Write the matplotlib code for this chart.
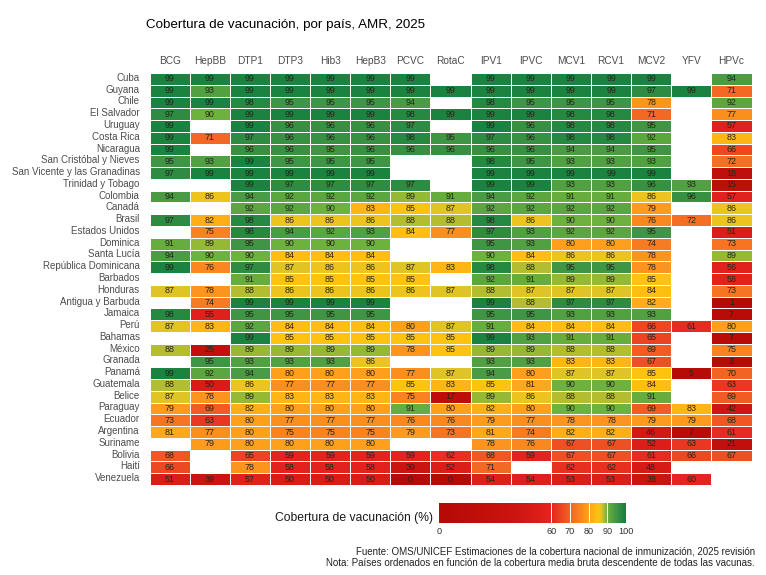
import numpy as np
import matplotlib
matplotlib.use('Agg')
import matplotlib.pyplot as plt
from matplotlib.colors import LinearSegmentedColormap

plt.rcParams['font.family'] = ['Liberation Sans', 'DejaVu Sans']

N = np.nan

vaccines = ['BCG', 'HepBB', 'DTP1', 'DTP3', 'Hib3', 'HepB3', 'PCVC', 'RotaC', 'IPV1',
            'IPVC', 'MCV1', 'RCV1', 'MCV2', 'YFV', 'HPVc']

countries = ['Cuba', 'Guyana', 'Chile', 'El Salvador', 'Uruguay', 'Costa Rica', 'Nicaragua',
             'San Cristóbal y Nieves', 'San Vicente y las Granadinas', 'Trinidad y Tobago',
             'Colombia', 'Canadá', 'Brasil', 'Estados Unidos', 'Dominica', 'Santa Lucía',
             'República Dominicana', 'Barbados', 'Honduras', 'Antigua y Barbuda', 'Jamaica',
             'Perú', 'Bahamas', 'México', 'Granada', 'Panamá', 'Guatemala', 'Belice',
             'Paraguay', 'Ecuador', 'Argentina', 'Suriname', 'Bolivia', 'Haití', 'Venezuela']

coverage = np.array([
    [99, 99, 99, 99, 99, 99, 99, N, 99, 99, 99, 99, 99, N, 94],
    [99, 93, 99, 99, 99, 99, 99, 99, 99, 99, 99, 99, 97, 99, 71],
    [99, 99, 98, 95, 95, 95, 94, N, 98, 95, 95, 95, 78, N, 92],
    [97, 90, 99, 99, 99, 99, 98, 99, 99, 99, 98, 98, 71, N, 77],
    [99, N, 99, 96, 96, 96, 97, N, 99, 96, 98, 98, 95, N, 57],
    [99, 71, 97, 96, 96, 96, 98, 95, 97, 96, 98, 98, 92, N, 83],
    [99, N, 96, 96, 95, 96, 96, 96, 96, 96, 94, 94, 95, N, 66],
    [95, 93, 99, 95, 95, 95, N, N, 98, 95, 93, 93, 93, N, 72],
    [97, 99, 99, 99, 99, 99, N, N, 99, 99, 99, 99, 99, N, 18],
    [N, N, 99, 97, 97, 97, 97, N, 99, 99, 93, 93, 96, 93, 15],
    [94, 86, 94, 92, 92, 92, 89, 91, 94, 92, 91, 91, 86, 96, 57],
    [N, N, 92, 92, 90, 83, 85, 87, 92, 92, 92, 92, 79, N, 86],
    [97, 82, 98, 86, 86, 86, 88, 88, 98, 86, 90, 90, 76, 72, 86],
    [N, 75, 98, 94, 92, 93, 84, 77, 97, 93, 92, 92, 95, N, 51],
    [91, 89, 95, 90, 90, 90, N, N, 95, 93, 80, 80, 74, N, 73],
    [94, 90, 90, 84, 84, 84, N, N, 90, 84, 86, 86, 78, N, 89],
    [99, 76, 97, 87, 86, 86, 87, 83, 98, 88, 95, 95, 78, N, 56],
    [N, N, 91, 85, 85, 85, 85, N, 92, 91, 89, 89, 85, N, 58],
    [87, 78, 88, 86, 86, 86, 86, 87, 88, 87, 87, 87, 84, N, 73],
    [N, 74, 99, 99, 99, 99, N, N, 99, 88, 97, 97, 82, N, 1],
    [98, 55, 95, 95, 95, 95, N, N, 95, 95, 93, 93, 93, N, 7],
    [87, 83, 92, 84, 84, 84, 80, 87, 91, 84, 84, 84, 66, 61, 80],
    [N, N, 99, 85, 85, 85, 85, 85, 99, 93, 91, 91, 65, N, 7],
    [88, 25, 89, 89, 89, 89, 78, 85, 89, 89, 88, 88, 69, N, 75],
    [N, 95, 93, 93, 93, 86, N, N, 93, 93, 83, 83, 67, N, 3],
    [99, 92, 94, 80, 80, 80, 77, 87, 94, 80, 87, 87, 85, 5, 70],
    [88, 50, 86, 77, 77, 77, 85, 83, 85, 81, 90, 90, 84, N, 63],
    [87, 78, 89, 83, 83, 83, 75, 17, 89, 86, 88, 88, 91, N, 69],
    [79, 69, 82, 80, 80, 80, 91, 80, 82, 80, 90, 90, 69, 83, 42],
    [73, 63, 80, 77, 77, 77, 76, 76, 79, 77, 78, 78, 79, 79, 68],
    [81, 77, 80, 75, 75, 75, 79, 73, 81, 74, 82, 82, 46, 7, 61],
    [N, 79, 80, 80, 80, 80, N, N, 78, 76, 67, 67, 52, 63, 21],
    [68, N, 65, 59, 59, 59, 59, 62, 68, 59, 67, 67, 61, 66, 67],
    [66, N, 78, 58, 58, 58, 39, 52, 71, N, 62, 62, 48, N, N],
    [51, 39, 57, 50, 50, 50, 0, 0, 54, 54, 53, 53, 38, 60, N],
])

legend_ticks = [0, 60, 70, 80, 90, 100]

# colour scale, stops
stops = [(0, '#b50a05'), (40, '#cc1410'), (60, '#e5241f'), (70, '#f26224'), (80, '#ffa01c'),
         (85, '#ffc30f'), (87, '#e2c426'), (90, '#6fb33c'), (95, '#429644'), (100, '#13803f')]
cmap = LinearSegmentedColormap.from_list('cobertura', [(v / 100, c) for v, c in stops])

W, H = 766, 575
fig = plt.figure(figsize=(W / 100, H / 100), dpi=100)


def px_axes(x0, y0, x1, y1):
    # axes from pixel corners, y measured from the top of the image
    return fig.add_axes([x0 / W, 1 - y1 / H, (x1 - x0) / W, (y1 - y0) / H])


ax = px_axes(149.5, 73, 751.5, 485)
masked = np.ma.masked_invalid(coverage)
ax.pcolormesh(masked, cmap=cmap, vmin=0, vmax=100, edgecolors='white', linewidth=0.7)
ax.set_xlim(0, len(vaccines))
ax.set_ylim(len(countries), 0)

for i in range(coverage.shape[0]):
    for j in range(coverage.shape[1]):
        if not np.isnan(coverage[i, j]):
            ax.text(j + 0.5, i + 0.5, '%d' % coverage[i, j], ha='center', va='center',
                    fontsize=6.4, color='#26261c')

ax.xaxis.tick_top()
ax.set_xticks(np.arange(len(vaccines)) + 0.5, vaccines, fontsize=7.3, color='#4d4d4d')
# country names sit slightly above the middle of their row in the reference
ax.set_yticks(np.arange(len(countries)) + 0.33, countries, fontsize=7.0, color='#4d4d4d')
ax.tick_params(length=0)
ax.tick_params(axis='x', pad=5)
ax.tick_params(axis='y', pad=7)
for s in ax.spines.values():
    s.set_visible(False)

fig.text(146 / W, 1 - 25 / H, 'Cobertura de vacunación, por país, AMR, 2025',
         fontsize=9.6, color='black', ha='left', va='center')

# legend bar
cax = px_axes(439, 503, 626, 523)
grad = np.linspace(0, 100, 500).reshape(1, -1)
cax.imshow(grad, aspect='auto', cmap=cmap, vmin=0, vmax=100, extent=[0, 100, 0, 1])
for t in legend_ticks[1:-1]:
    cax.axvline(t, color='white', linewidth=0.7)
cax.set_yticks([])
cax.set_xticks(legend_ticks, [str(t) for t in legend_ticks], fontsize=6.6, color='#303030')
cax.tick_params(length=0, pad=3)
for s in cax.spines.values():
    s.set_visible(False)

fig.text(433 / W, 1 - 518.5 / H, 'Cobertura de vacunación (%)', fontsize=8.7,
         ha='right', va='center', color='#1a1a1a')
fig.text(755 / W, 1 - 552 / H,
         'Fuente: OMS/UNICEF Estimaciones de la cobertura nacional de inmunización, 2025 revisión',
         fontsize=7.0, ha='right', va='center', color='#222222')
fig.text(755 / W, 1 - 563.5 / H,
         'Nota: Países ordenados en función de la cobertura media bruta descendente de todas las vacunas.',
         fontsize=7.0, ha='right', va='center', color='#222222')

plt.savefig('out.png', dpi=100)
